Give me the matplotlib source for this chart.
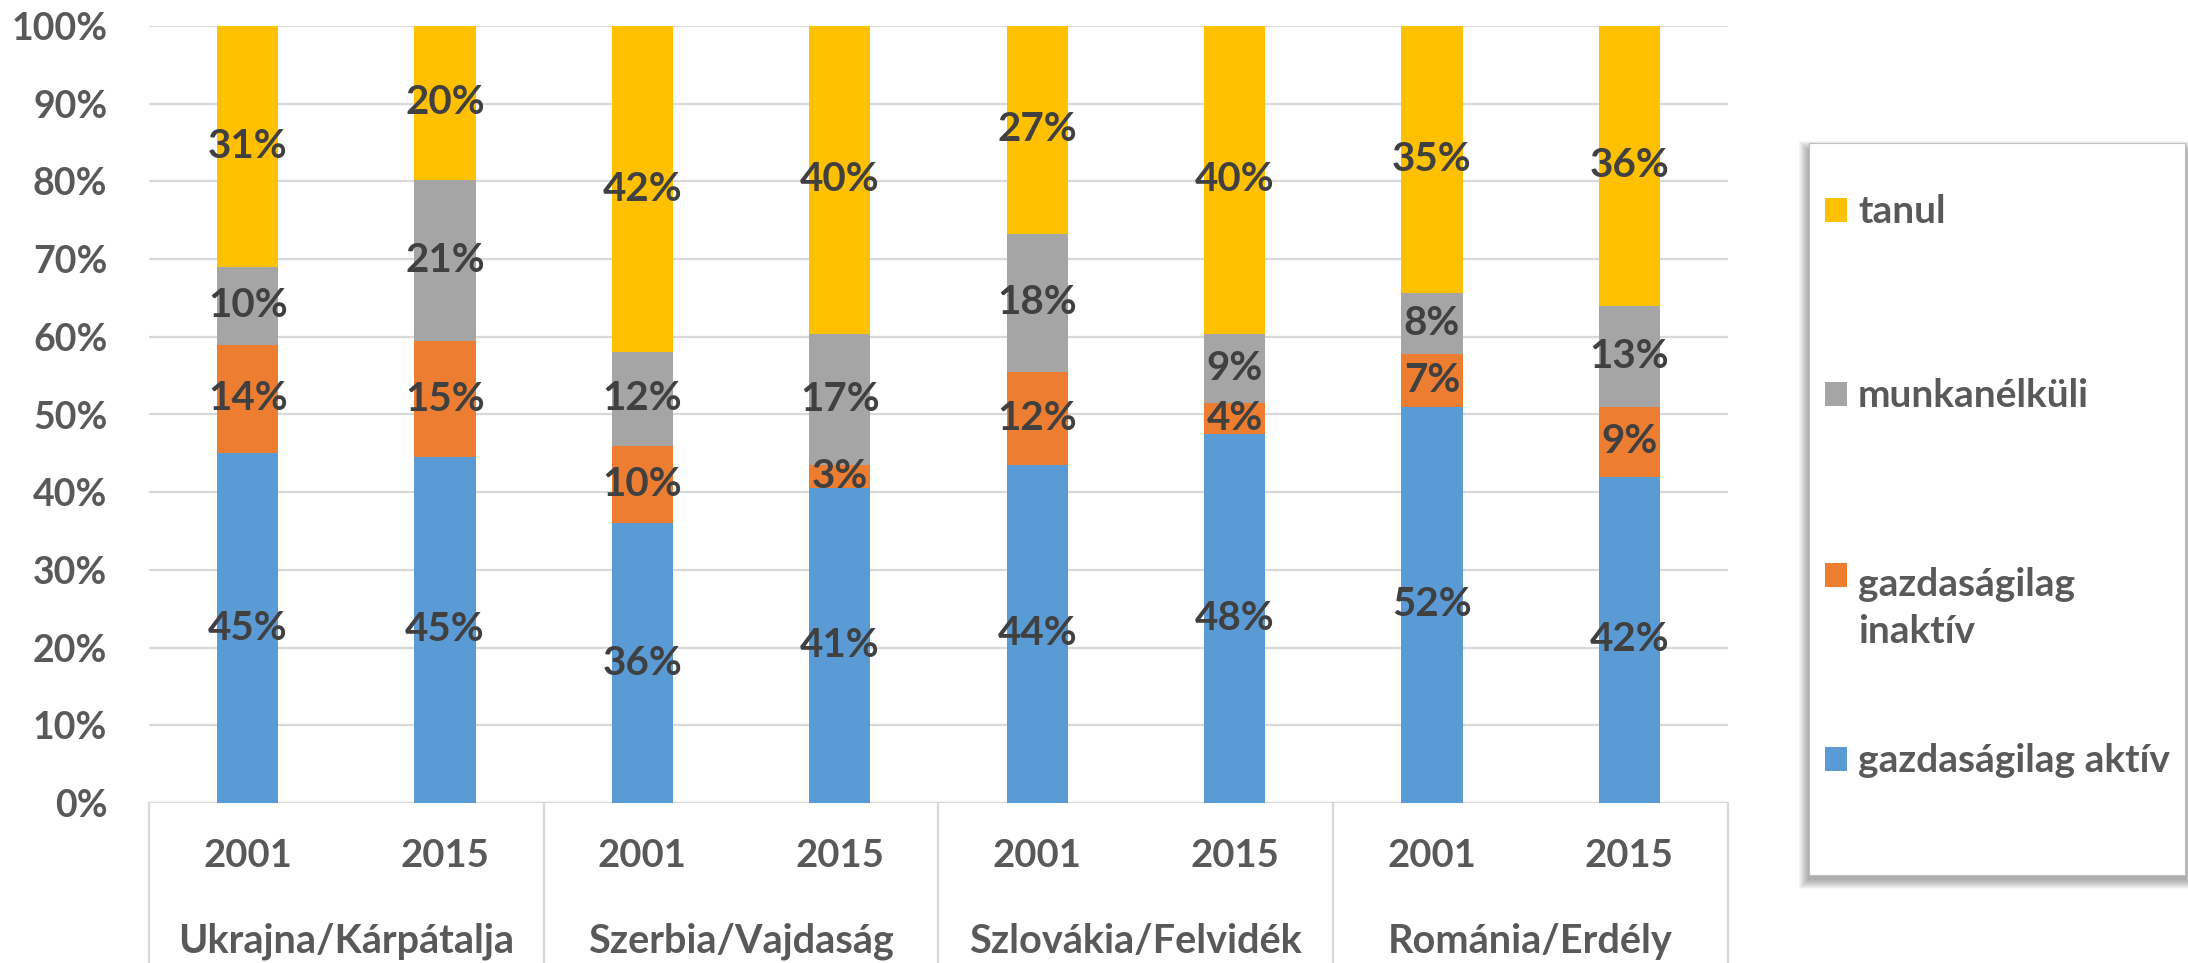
import numpy as np
import matplotlib.pyplot as plt
from matplotlib.patches import Rectangle
from matplotlib.transforms import blended_transform_factory

plt.rcParams['font.family'] = ['Lato', 'DejaVu Sans']
plt.rcParams['font.weight'] = 'bold'

# data (raw shares as labelled on the bars, normalised to 100% when drawn)
groups = ["Ukrajna/Kárpátalja", "Szerbia/Vajdaság", "Szlovákia/Felvidék", "Románia/Erdély"]
years = ["2001", "2015", "2001", "2015", "2001", "2015", "2001", "2015"]
aktiv = [45, 45, 36, 41, 44, 48, 52, 42]
inaktiv = [14, 15, 10, 3, 12, 4, 7, 9]
munkanelkuli = [10, 21, 12, 17, 18, 9, 8, 13]
tanul = [31, 20, 42, 40, 27, 40, 35, 36]

series = [
    ("gazdaságilag aktív", aktiv, "#5B9BD5"),
    ("gazdaságilag\ninaktív", inaktiv, "#ED7D31"),
    ("munkanélküli", munkanelkuli, "#A5A5A5"),
    ("tanul", tanul, "#FFC000"),
]

W, H = 2188, 963
fig = plt.figure(figsize=(W / 100, H / 100), dpi=100)
ax = fig.add_axes([149 / W, 1 - 803 / H, (1728 - 149) / W, (803 - 26) / H])

def px(x, y):
    # pixel position (top-left origin) -> figure fraction
    return x / W, 1 - y / H

x = np.arange(len(years))
totals = np.array([sum(s[1][i] for s in series) for i in range(len(years))], dtype=float)
bottom = np.zeros(len(years))
for name, vals, col in series:
    share = np.array(vals) / totals * 100
    bars = ax.bar(x, share, 0.31, bottom=bottom, color=col, zorder=3)
    ax.bar_label(bars, labels=[f"{v}%" for v in vals], label_type='center',
                 fontsize=29, fontweight='bold', color='#404040', zorder=4)
    bottom += share

ax.set_xlim(-0.5, len(years) - 0.5)
ax.set_ylim(0, 100)
ax.set_yticks(np.arange(0, 101, 10))
ax.set_yticklabels([f"{v}%" for v in range(0, 101, 10)])
ax.yaxis.grid(True, color='#D9D9D9', lw=1.6, zorder=0)
ax.set_axisbelow(True)
for s in ax.spines.values():
    s.set_visible(False)
ax.tick_params(axis='y', length=0, pad=30, labelsize=27, labelcolor='#595959')
ax.set_xticks(x)
ax.set_xticklabels(years)
ax.tick_params(axis='x', length=0, pad=26, labelsize=27.5, labelcolor='#595959')

# category axis line and group separators
ax.axhline(0, color='#D9D9D9', lw=1.6, zorder=2)
trans = blended_transform_factory(ax.transData, ax.transAxes)
for b in np.arange(-0.5, len(years), 2):
    ax.plot([b, b], [0, -0.21], transform=trans, color='#D9D9D9', lw=1.6, clip_on=False)
for i, g in enumerate(groups):
    ax.text(2 * i + 0.5, -0.193, g, transform=trans, ha='center', va='baseline',
            fontsize=28.5, fontweight='bold', color='#595959')

# legend box with soft shadow
lx0, ly0, lx1, ly1 = 1809, 143, 2185, 875
for k in range(10, 0, -1):
    fig.patches.append(Rectangle(px(lx0 - k, ly1 + k + 4), (lx1 - lx0 + 2 * k) / W,
                                 (ly1 - ly0 + 2 * k - 4) / H, transform=fig.transFigure,
                                 facecolor='black', edgecolor='none', alpha=0.035))
fig.patches.append(Rectangle(px(lx0, ly1), (lx1 - lx0) / W, (ly1 - ly0) / H,
                             transform=fig.transFigure, facecolor='white',
                             edgecolor='#BFBFBF', lw=0.8))

legend_rows = [("tanul", "#FFC000", 223), ("munkanélküli", "#A5A5A5", 407),
               ("gazdaságilag\ninaktív", "#ED7D31", 588), ("gazdaságilag aktív", "#5B9BD5", 772)]
for name, col, base in legend_rows:
    fig.patches.append(Rectangle(px(1825, base - 1), 22 / W, 24 / H, transform=fig.transFigure,
                                 facecolor=col, edgecolor='none'))
    # multi-line text sits on the baseline of its last line
    last_base = base + 55 * name.count("\n")
    fig.text(*px(1858, last_base), name, ha='left', va='baseline', fontsize=28,
             fontweight='bold', color='#595959', linespacing=1.42)

fig.savefig("out.png", dpi=100)
